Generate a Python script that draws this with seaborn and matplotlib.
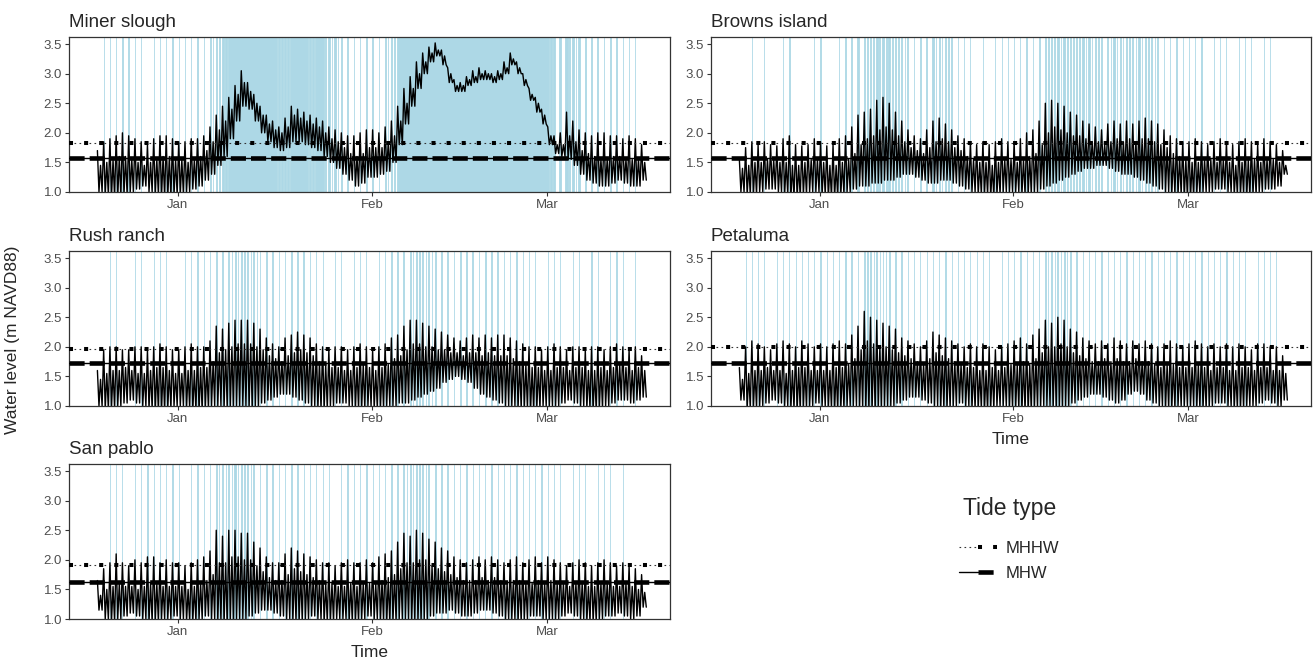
import numpy as np
import pandas as pd
import matplotlib
matplotlib.use("Agg")
import matplotlib.pyplot as plt
import matplotlib.dates as mdates
import seaborn as sns
from matplotlib.lines import Line2D
from matplotlib.legend_handler import HandlerTuple

# sites and tidal datums (m NAVD88)
sites = ["Miner slough", "Browns island", "Rush ranch", "Petaluma", "San pablo"]
mhhw = [1.82, 1.82, 1.96, 1.99, 1.92]
mhw = [1.57, 1.57, 1.72, 1.73, 1.63]

# one day per value, 19 Dec 2016 .. 16 Mar 2017 (88 days)
days = pd.date_range("2016-12-19", "2017-03-16", freq="D")

# daily higher high, lower high and low water
miner_hi = [1.70, 1.85, 1.90, 1.95, 2.00, 1.95, 1.90, 1.85, 1.80, 1.90, 1.95, 1.95, 1.90,
            1.85, 1.85, 1.90, 1.90, 1.95, 2.10, 2.30, 2.45, 2.60, 2.80,
            3.05, 2.85, 2.65, 2.45, 2.30, 2.20, 2.10, 2.25, 2.45, 2.40,
            2.35, 2.30, 2.25, 2.20, 2.10, 2.05, 2.00, 1.95, 1.95, 2.00, 2.05,
            2.05, 2.00, 2.10, 2.20, 2.45, 2.75, 2.95, 3.20, 3.35, 3.45,
            3.52, 3.40, 3.10, 2.90, 2.85, 2.95, 3.05, 3.10, 3.05, 3.00,
            3.05, 3.20, 3.35, 3.20, 3.00, 2.75, 2.60, 2.40,
            2.10, 1.95, 2.00, 2.35, 2.20, 2.05, 2.00, 1.95, 2.00, 2.00, 1.95, 1.95, 1.90, 1.95, 1.90, 1.80]
miner_lh = [1.45, 1.50, 1.55, 1.60, 1.60, 1.55, 1.50, 1.45, 1.50, 1.55, 1.60, 1.60, 1.55,
            1.55, 1.50, 1.55, 1.60, 1.70, 1.85, 2.05, 2.20, 2.40, 2.65,
            2.85, 2.70, 2.50, 2.30, 2.15, 2.05, 2.00, 2.10, 2.30, 2.25,
            2.20, 2.15, 2.10, 2.00, 1.90, 1.85, 1.75, 1.65, 1.60, 1.65, 1.75,
            1.75, 1.75, 1.85, 1.95, 2.20, 2.50, 2.75, 3.00, 3.20, 3.35,
            3.40, 3.30, 3.00, 2.80, 2.80, 2.90, 2.95, 3.00, 3.00, 2.95,
            3.00, 3.10, 3.25, 3.10, 2.90, 2.65, 2.50, 2.30,
            1.95, 1.80, 1.80, 1.95, 1.85, 1.70, 1.65, 1.60, 1.55, 1.55, 1.60, 1.60, 1.55, 1.55, 1.55, 1.50]
miner_lo = [1.00, 0.95, 0.90, 0.90, 0.95, 1.00, 1.05, 1.10, 1.00, 0.95, 0.90, 0.90, 0.95,
            0.95, 1.00, 1.05, 1.10, 1.20, 1.30, 1.45, 1.60, 1.90, 2.20,
            2.45, 2.40, 2.20, 2.00, 1.85, 1.75, 1.70, 1.75, 1.85, 1.85,
            1.80, 1.75, 1.70, 1.60, 1.50, 1.40, 1.30, 1.20, 1.10, 1.15, 1.25,
            1.25, 1.30, 1.35, 1.50, 1.80, 2.15, 2.45, 2.75, 3.00, 3.20,
            3.30, 3.15, 2.85, 2.70, 2.70, 2.80, 2.85, 2.90, 2.90, 2.85,
            2.90, 3.00, 3.15, 3.00, 2.80, 2.55, 2.35, 2.15,
            1.80, 1.65, 1.60, 1.55, 1.45, 1.30, 1.20, 1.15, 1.10, 1.10, 1.15, 1.20, 1.15, 1.10, 1.10, 1.20]

browns_hi = [1.55, 1.75, 1.85, 1.80, 1.85, 1.80, 1.78, 1.90, 1.95, 1.80, 1.78, 1.80, 1.90,
             1.85, 1.78, 1.80, 1.90, 1.95, 2.10, 2.30, 2.35, 2.40, 2.55,
             2.60, 2.50, 2.35, 2.20, 2.05, 1.95, 1.90, 2.05, 2.20, 2.25,
             2.15, 2.05, 1.95, 1.90, 1.85, 1.80, 1.85, 1.80, 1.85, 1.90, 1.85,
             1.85, 1.90, 2.00, 2.05, 2.20, 2.50, 2.55, 2.50, 2.45, 2.35,
             2.30, 2.20, 2.15, 2.10, 2.05, 2.15, 2.20, 2.15, 2.20, 2.15,
             2.20, 2.25, 2.20, 2.15, 2.05, 1.95, 1.90, 1.85,
             1.85, 1.90, 1.85, 1.80, 1.85, 1.90, 1.85, 1.80, 1.85, 1.90, 1.85, 1.80, 1.90, 1.85, 1.80, 1.70]
browns_lh = [1.40, 1.45, 1.50, 1.50, 1.55, 1.55, 1.50, 1.50, 1.45, 1.45, 1.50, 1.55, 1.55,
             1.50, 1.45, 1.45, 1.50, 1.55, 1.65, 1.80, 1.90, 1.95, 2.05,
             2.10, 2.05, 1.95, 1.85, 1.75, 1.70, 1.65, 1.75, 1.85, 1.90,
             1.85, 1.75, 1.70, 1.60, 1.55, 1.50, 1.50, 1.45, 1.50, 1.55, 1.55,
             1.50, 1.55, 1.60, 1.65, 1.80, 2.00, 2.10, 2.05, 2.00, 1.95,
             1.95, 1.90, 1.85, 1.85, 1.80, 1.85, 1.90, 1.85, 1.90, 1.85,
             1.90, 1.90, 1.85, 1.80, 1.75, 1.65, 1.60, 1.55,
             1.50, 1.50, 1.55, 1.55, 1.50, 1.55, 1.50, 1.45, 1.50, 1.55, 1.55, 1.50, 1.55, 1.55, 1.50, 1.45]
browns_lo = [1.00, 0.95, 0.95, 1.00, 1.05, 1.05, 1.00, 0.95, 0.90, 0.90, 0.95, 1.00, 1.00,
             0.95, 0.90, 0.90, 0.95, 1.00, 1.05, 1.10, 1.10, 1.15, 1.15,
             1.20, 1.20, 1.25, 1.30, 1.30, 1.25, 1.20, 1.15, 1.15, 1.20,
             1.20, 1.15, 1.10, 1.05, 1.00, 0.95, 0.95, 0.90, 0.95, 1.00, 1.00,
             1.00, 0.95, 0.95, 1.00, 1.05, 1.10, 1.15, 1.20, 1.25, 1.30,
             1.35, 1.40, 1.40, 1.45, 1.45, 1.40, 1.35, 1.30, 1.30, 1.25,
             1.20, 1.15, 1.10, 1.05, 1.00, 0.95, 0.95, 0.90,
             0.90, 0.95, 1.00, 1.00, 1.05, 1.05, 1.00, 0.95, 0.95, 0.90, 0.95, 1.00, 1.05, 1.05, 1.10, 1.30]

rush_hi = [1.60, 1.95, 2.00, 2.00, 1.95, 1.95, 2.00, 2.00, 1.95, 2.00, 2.05, 2.00, 1.95,
           1.95, 2.00, 2.05, 2.00, 2.00, 2.10, 2.35, 2.30, 2.40, 2.45,
           2.45, 2.45, 2.40, 2.30, 2.15, 2.05, 2.00, 2.15, 2.20, 2.25,
           2.20, 2.15, 2.05, 2.00, 1.95, 2.00, 2.00, 1.95, 2.00, 2.05, 2.00,
           1.95, 2.00, 2.05, 2.15, 2.20, 2.35, 2.45, 2.45, 2.40, 2.35,
           2.30, 2.25, 2.20, 2.15, 2.10, 2.15, 2.20, 2.15, 2.20, 2.15,
           2.20, 2.20, 2.15, 2.10, 2.05, 2.00, 2.00, 1.95,
           2.00, 2.05, 2.00, 1.95, 2.00, 2.00, 1.95, 2.00, 2.00, 1.95, 2.00, 2.05, 2.00, 1.95, 2.00, 1.85]
rush_lh = [1.45, 1.55, 1.60, 1.60, 1.65, 1.60, 1.55, 1.55, 1.60, 1.65, 1.65, 1.60, 1.55,
           1.55, 1.60, 1.60, 1.65, 1.65, 1.75, 1.90, 1.95, 2.00, 2.05,
           2.05, 2.05, 2.00, 1.95, 1.85, 1.80, 1.75, 1.85, 1.90, 1.95,
           1.90, 1.85, 1.75, 1.70, 1.65, 1.65, 1.60, 1.60, 1.65, 1.70, 1.65,
           1.60, 1.65, 1.70, 1.80, 1.85, 1.95, 2.05, 2.05, 2.00, 2.00,
           1.95, 1.95, 1.90, 1.90, 1.85, 1.90, 1.90, 1.85, 1.90, 1.85,
           1.85, 1.85, 1.80, 1.75, 1.70, 1.65, 1.65, 1.60,
           1.60, 1.65, 1.65, 1.60, 1.65, 1.65, 1.60, 1.60, 1.65, 1.60, 1.65, 1.70, 1.65, 1.60, 1.65, 1.60]
rush_lo = [1.00, 0.95, 0.95, 1.00, 1.05, 1.10, 1.05, 1.00, 0.95, 0.90, 0.90, 0.95, 1.00,
           1.00, 0.95, 0.90, 0.90, 0.95, 1.00, 1.00, 0.95, 0.95, 1.00,
           1.00, 0.95, 1.00, 1.05, 1.10, 1.15, 1.20, 1.20, 1.15, 1.10,
           1.05, 1.00, 0.95, 0.95, 1.00, 1.05, 1.05, 1.00, 0.95, 0.95, 1.00,
           0.95, 0.95, 1.00, 1.00, 1.05, 1.05, 1.10, 1.15, 1.20, 1.25,
           1.30, 1.40, 1.45, 1.50, 1.45, 1.40, 1.30, 1.20, 1.15, 1.10,
           1.05, 1.00, 1.00, 0.95, 0.95, 0.90, 0.95, 1.00,
           1.00, 1.00, 1.05, 1.10, 1.05, 1.00, 0.95, 0.90, 0.95, 1.00, 1.05, 1.10, 1.10, 1.05, 1.10, 1.15]

petaluma_hi = [1.65, 2.00, 2.10, 2.05, 2.00, 1.95, 2.05, 2.10, 2.05, 2.00, 2.10, 2.05, 2.00,
               2.05, 2.00, 2.05, 2.10, 2.05, 2.20, 2.35, 2.60, 2.50, 2.45,
               2.40, 2.35, 2.30, 2.15, 2.10, 2.05, 2.00, 2.10, 2.25, 2.20,
               2.15, 2.10, 2.05, 2.00, 2.05, 2.00, 2.05, 2.00, 1.95, 2.00, 2.05,
               2.10, 2.15, 2.05, 2.20, 2.30, 2.45, 2.40, 2.50, 2.45, 2.30,
               2.25, 2.15, 2.10, 2.05, 2.10, 2.05, 2.15, 2.10, 2.05, 2.10,
               2.05, 2.10, 2.05, 2.00, 2.05, 2.10, 2.05, 2.00,
               2.05, 2.10, 2.05, 2.00, 2.05, 2.00, 2.05, 2.00, 2.05, 2.00, 1.95, 2.05, 2.05, 2.00, 2.00, 1.85]
petaluma_lh = [1.45, 1.55, 1.60, 1.60, 1.65, 1.60, 1.60, 1.55, 1.60, 1.65, 1.65, 1.60, 1.60,
               1.60, 1.60, 1.65, 1.65, 1.70, 1.80, 1.95, 2.10, 2.05, 2.00,
               2.00, 1.95, 1.90, 1.85, 1.80, 1.75, 1.70, 1.80, 1.90, 1.85,
               1.80, 1.75, 1.70, 1.65, 1.65, 1.60, 1.60, 1.65, 1.60, 1.65, 1.70,
               1.70, 1.75, 1.70, 1.80, 1.90, 2.00, 2.00, 2.05, 2.00, 1.90,
               1.85, 1.80, 1.75, 1.75, 1.80, 1.75, 1.80, 1.75, 1.75, 1.80,
               1.75, 1.75, 1.70, 1.65, 1.70, 1.70, 1.65, 1.65,
               1.65, 1.70, 1.65, 1.60, 1.65, 1.65, 1.60, 1.60, 1.65, 1.65, 1.60, 1.65, 1.65, 1.60, 1.60, 1.55]
petaluma_lo = [1.10, 0.95, 0.95, 1.00, 1.05, 1.10, 1.05, 1.00, 0.95, 0.90, 0.95, 1.00, 1.05,
               1.00, 0.95, 0.90, 0.95, 1.00, 1.00, 0.95, 0.90, 0.90, 0.95,
               1.00, 1.00, 1.05, 1.10, 1.15, 1.15, 1.10, 1.05, 1.00, 0.95,
               0.95, 1.00, 1.05, 1.00, 0.95, 0.95, 0.90, 0.95, 1.00, 1.00, 0.95,
               0.95, 0.90, 0.90, 0.95, 1.00, 1.00, 0.95, 0.95, 1.00, 1.05,
               1.10, 1.15, 1.20, 1.20, 1.15, 1.10, 1.05, 1.10, 1.20, 1.25,
               1.20, 1.10, 1.05, 1.00, 0.95, 0.95, 1.00, 1.00,
               1.00, 0.95, 0.95, 1.00, 1.05, 1.05, 1.00, 0.95, 0.95, 1.00, 1.00, 1.05, 1.10, 1.05, 1.00, 1.10]

sanpablo_hi = [1.65, 1.85, 1.95, 2.10, 1.95, 1.90, 2.00, 1.95, 2.05, 2.05, 1.95, 2.00, 1.95,
               1.95, 1.90, 1.95, 2.00, 2.05, 2.15, 2.50, 2.40, 2.50, 2.50,
               2.45, 2.45, 2.30, 2.20, 2.05, 1.95, 1.95, 2.10, 2.20, 2.15,
               2.10, 2.05, 2.00, 1.95, 1.95, 1.90, 1.95, 2.00, 1.95, 1.95, 2.00,
               1.95, 2.05, 2.10, 2.15, 2.30, 2.45, 2.40, 2.50, 2.45, 2.35,
               2.30, 2.20, 2.15, 2.05, 2.00, 1.95, 2.00, 2.05, 2.00, 2.05,
               2.00, 1.95, 2.00, 2.05, 1.95, 2.00, 2.05, 1.95,
               2.05, 2.00, 1.95, 1.90, 1.95, 2.00, 1.95, 1.90, 1.95, 2.00, 1.95, 1.90, 1.95, 1.90, 1.85, 1.75]
sanpablo_lh = [1.40, 1.50, 1.55, 1.60, 1.55, 1.55, 1.50, 1.55, 1.60, 1.60, 1.55, 1.55, 1.55,
               1.55, 1.50, 1.55, 1.60, 1.65, 1.75, 1.95, 1.95, 2.05, 2.05,
               2.00, 2.00, 1.90, 1.80, 1.70, 1.65, 1.65, 1.75, 1.85, 1.80,
               1.75, 1.70, 1.65, 1.60, 1.60, 1.55, 1.55, 1.60, 1.55, 1.60, 1.60,
               1.60, 1.65, 1.70, 1.75, 1.85, 1.95, 1.95, 2.00, 2.00, 1.90,
               1.85, 1.80, 1.75, 1.70, 1.65, 1.65, 1.65, 1.70, 1.65, 1.70,
               1.65, 1.60, 1.65, 1.65, 1.60, 1.60, 1.65, 1.60,
               1.65, 1.60, 1.60, 1.55, 1.60, 1.60, 1.55, 1.55, 1.60, 1.60, 1.55, 1.55, 1.60, 1.55, 1.50, 1.45]
sanpablo_lo = [1.15, 1.00, 0.95, 1.00, 1.05, 1.10, 1.05, 1.00, 0.95, 0.95, 1.00, 1.00, 1.05,
               1.00, 0.95, 0.95, 1.00, 1.05, 1.00, 0.95, 0.90, 0.95, 1.00,
               1.00, 1.05, 1.10, 1.15, 1.15, 1.10, 1.05, 1.00, 0.95, 0.95,
               1.00, 1.05, 1.00, 0.95, 0.95, 1.00, 1.00, 0.95, 0.95, 1.00, 1.05,
               1.00, 0.95, 0.90, 0.95, 1.00, 1.00, 0.95, 0.95, 1.00, 1.05,
               1.10, 1.10, 1.15, 1.10, 1.05, 1.05, 1.10, 1.15, 1.15, 1.10,
               1.05, 1.00, 1.00, 0.95, 1.00, 1.05, 1.05, 1.00,
               1.00, 1.00, 1.05, 1.10, 1.05, 1.00, 0.95, 0.95, 1.00, 1.05, 1.05, 1.10, 1.05, 1.00, 1.05, 1.20]

highs = [miner_hi, browns_hi, rush_hi, petaluma_hi, sanpablo_hi]
lower_highs = [miner_lh, browns_lh, rush_lh, petaluma_lh, sanpablo_lh]
lows = [miner_lo, browns_lo, rush_lo, petaluma_lo, sanpablo_lo]

# long table, four turning points a day (HH, low, LH, low)
frames = []
for site, hi, lh, lo in zip(sites, highs, lower_highs, lows):
    t = np.column_stack([days + pd.Timedelta(hours=h) for h in (3, 9, 15, 21)]).ravel()
    lvl = np.column_stack([hi, lo, lh, lo]).ravel()
    frames.append(pd.DataFrame({"site": site, "time": pd.to_datetime(t), "level": lvl}))
df = pd.concat(frames, ignore_index=True)


def wet_spans(t, y, thr):
    # stretches of the drawn line that sit above MHHW
    out = []
    for t0, t1, y0, y1 in zip(t[:-1], t[1:], y[:-1], y[1:]):
        if y0 <= thr and y1 <= thr:
            continue
        if y0 > thr and y1 > thr:
            a, b = t0, t1
        else:
            tc = t0 + (thr - y0) / (y1 - y0) * (t1 - t0)
            a, b = (t0, tc) if y0 > thr else (tc, t1)
        if out and abs(out[-1][1] - a) < 1e-9:
            out[-1][1] = b
        else:
            out.append([a, b])
    return out


sns.set_theme(style="white")
plt.rcParams["font.family"] = ["Liberation Sans", "DejaVu Sans"]

W, H = 1313, 659
fig = plt.figure(figsize=(W / 100, H / 100), dpi=100)

# panel boxes in pixels: left, top, right, bottom
boxes = [(69, 37, 670, 192), (711, 37, 1311, 192),
         (69, 251, 670, 406), (711, 251, 1311, 406),
         (69, 464, 670, 619)]

thin_hhw = dict(color="#333333", lw=0.8, ls=(0, (1.5, 3.0)))
thick_hhw = dict(color="black", lw=2.9, ls=(0, (1.0, 2.75)))
thin_hw = dict(color="black", lw=1.0, ls="-")
thick_hw = dict(color="black", lw=3.3, ls=(0, (3.3, 1.1)))

xmin = pd.Timestamp("2016-12-14 14:00")
xmax = pd.Timestamp("2017-03-20 16:00")

for i, site in enumerate(sites):
    l, t, r, b = boxes[i]
    ax = fig.add_axes([l / W, 1 - b / H, (r - l) / W, (b - t) / H])
    d = df[df["site"] == site]

    tn = mdates.date2num(d["time"])
    for a, bb in wet_spans(tn, d["level"].to_numpy(), mhhw[i]):
        ax.axvspan(a, bb, color="#ADD8E6", lw=0.6, zorder=0.5)

    sns.lineplot(data=d, x="time", y="level", ax=ax, color="black", lw=1.0,
                 estimator=None, sort=False, zorder=2)

    ax.axhline(mhhw[i], zorder=3, **thin_hhw)
    ax.axhline(mhhw[i], zorder=3, **thick_hhw)
    ax.axhline(mhw[i], zorder=3, **thin_hw)
    ax.axhline(mhw[i], zorder=3, **thick_hw)

    ax.set_xlim(xmin, xmax)
    ax.set_ylim(1.0, 3.62)
    ax.set_yticks([1.0, 1.5, 2.0, 2.5, 3.0, 3.5])
    ax.yaxis.set_major_formatter(matplotlib.ticker.FormatStrFormatter("%.1f"))
    ax.xaxis.set_major_locator(mdates.MonthLocator())
    ax.xaxis.set_major_formatter(mdates.DateFormatter("%b"))
    ax.tick_params(axis="both", which="major", direction="out", length=3, width=0.8,
                   color="#333333", labelcolor="#4D4D4D", labelsize=9.5, pad=2,
                   bottom=True, left=True)
    for s in ax.spines.values():
        s.set_color("#333333")
        s.set_linewidth(0.9)
    ax.set_title(site, loc="left", fontsize=13.5, pad=7)
    ax.set_ylabel("")
    if site in ("Petaluma", "San pablo"):
        ax.set_xlabel("Time", fontsize=12.5, labelpad=5)
    else:
        ax.set_xlabel("")

fig.text(13 / W, 1 - 340 / H, "Water level (m NAVD88)", rotation=90,
         va="center", ha="center", fontsize=12.5)

# legend in the empty sixth cell
fig.text(963 / W, 1 - 509 / H, "Tide type", fontsize=16.5, va="center", ha="left")
h_hhw = (Line2D([], [], **thin_hhw), Line2D([], [], **thick_hhw))
h_hw = (Line2D([], [], **thin_hw), Line2D([], [], **thick_hw))
fig.legend([h_hhw, h_hw], ["MHHW", "MHW"],
           handler_map={tuple: HandlerTuple(ndivide=None, pad=0)},
           loc="upper left", bbox_to_anchor=(952 / W, 1 - 534 / H),
           frameon=False, fontsize=12, handlelength=2.3, handletextpad=0.5,
           labelspacing=0.6, borderaxespad=0)

fig.savefig("out.png", dpi=100)
